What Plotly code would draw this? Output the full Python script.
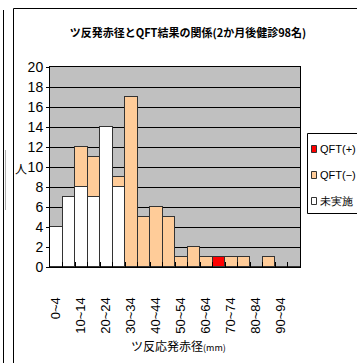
import plotly.graph_objects as go

# ---- data ----
categories = ["0~4", "5~9", "10~14", "15~19", "20~24", "25~29", "30~34", "35~39",
              "40~44", "45~49", "50~54", "55~59", "60~64", "65~69", "70~74", "75~79",
              "80~84", "85~89", "90~94", "95~99"]
not_done = [4, 7, 8, 7, 14, 8, 0, 0, 0, 0, 0, 0, 0, 0, 0, 0, 0, 0, 0, 0]
qft_neg = [0, 0, 4, 4, 0, 1, 17, 5, 6, 5, 1, 2, 1, 0, 1, 1, 0, 1, 0, 0]
qft_pos = [0, 0, 0, 0, 0, 0, 0, 0, 0, 0, 0, 0, 0, 1, 0, 0, 0, 0, 0, 0]
series_names = ["未実施", "QFT(−)", "QFT(+)"]
series_colors = ["#FFFFFF", "#FFCC99", "#FF0000"]
tick_text = [c if i % 2 == 0 else "" for i, c in enumerate(categories)]
title_text = "ツ反発赤径とQFT結果の関係(2か月後健診98名)"
xaxis_title = "ツ反応発赤径<span style='font-size:9px'>(mm)</span>"
yaxis_title = "人"

W, H = 357, 363
L, R, T, B = 50, 300, 67, 267  # plot area in px


def px_x(p):
    return (p - L) / (R - L)


def px_y(p):
    return (B - p) / (B - T)


JP = "Noto Sans CJK JP"
NUM = "Liberation Sans Narrow, Liberation Sans, Arial"

fig = go.Figure()
for name, vals, col in zip(series_names, [not_done, qft_neg, qft_pos], series_colors):
    fig.add_trace(go.Bar(x=categories, y=vals, name=name, showlegend=False,
                         marker=dict(color=col, line=dict(color="#333333", width=1))))

fig.update_layout(
    width=W, height=H, barmode="stack", bargap=0,
    margin=dict(l=L, r=W - R, t=T, b=H - B, autoexpand=False),
    paper_bgcolor="white", plot_bgcolor="#C0C0C0",
    title=dict(text=title_text, x=188 / W, y=1 - 33 / H, xanchor="center", yanchor="middle",
               font=dict(family=JP, size=11, color="black", weight="bold")),
    xaxis=dict(type="category", tickvals=categories, ticktext=tick_text, tickangle=-90,
               tickson="boundaries", ticks="inside", ticklen=5, tickcolor="black",
               ticklabelstandoff=24,
               showline=True, linecolor="black", linewidth=1, mirror=True,
               tickfont=dict(family=NUM, size=13, color="black"), showgrid=False),
    yaxis=dict(range=[0, 20], dtick=2, ticks="outside", ticklen=3, tickcolor="black",
               showline=True, linecolor="black", linewidth=1, mirror=True,
               gridcolor="black", gridwidth=1, zeroline=False,
               tickfont=dict(family=NUM, size=14, color="black")),
)

ann = []
ann.append(dict(text=xaxis_title, xref="paper", yref="paper", x=px_x(178), y=px_y(345),
                xanchor="center", yanchor="middle", showarrow=False,
                font=dict(family=JP, size=12, color="black")))
ann.append(dict(text=yaxis_title, xref="paper", yref="paper", x=px_x(21), y=px_y(168),
                xanchor="center", yanchor="middle", showarrow=False,
                font=dict(family=JP, size=12, color="black")))

shapes = []
# outer frames
shapes.append(dict(type="line", xref="paper", yref="paper", x0=px_x(13.5), x1=px_x(13.5),
                   y0=px_y(8.5), y1=px_y(H + 5), line=dict(color="black", width=1)))
shapes.append(dict(type="line", xref="paper", yref="paper", x0=px_x(13.5), x1=px_x(W + 5),
                   y0=px_y(8.5), y1=px_y(8.5), line=dict(color="black", width=1)))
shapes.append(dict(type="line", xref="paper", yref="paper", x0=px_x(3.5), x1=px_x(3.5),
                   y0=px_y(10), y1=px_y(H + 5), line=dict(color="black", width=1)))
shapes.append(dict(type="line", xref="paper", yref="paper", x0=px_x(5.5), x1=px_x(5.5),
                   y0=px_y(150), y1=px_y(210), line=dict(color="#B0B0B0", width=1)))

# custom legend
shapes.append(dict(type="rect", xref="paper", yref="paper", x0=px_x(307.5), x1=px_x(W + 10),
                   y0=px_y(133.5), y1=px_y(213.5), line=dict(color="black", width=1),
                   fillcolor="white"))
legend_rows = [(series_names[2], series_colors[2], 149),
               (series_names[1], series_colors[1], 175),
               (series_names[0], series_colors[0], 201)]
for name, col, yc in legend_rows:
    shapes.append(dict(type="rect", xref="paper", yref="paper", x0=px_x(311.5), x1=px_x(316.5),
                       y0=px_y(yc - 3.5), y1=px_y(yc + 3.5), line=dict(color="#333333", width=1),
                       fillcolor=col))
    ann.append(dict(text=name, xref="paper", yref="paper", x=px_x(318), y=px_y(yc),
                    xanchor="left", yanchor="middle", showarrow=False,
                    font=dict(family=NUM, size=11, color="black")))

fig.update_layout(annotations=ann, shapes=shapes)
fig.write_html("out.html", config={"displayModeBar": False},
               post_script="document.body.style.margin='0';document.body.style.overflow='hidden';")
